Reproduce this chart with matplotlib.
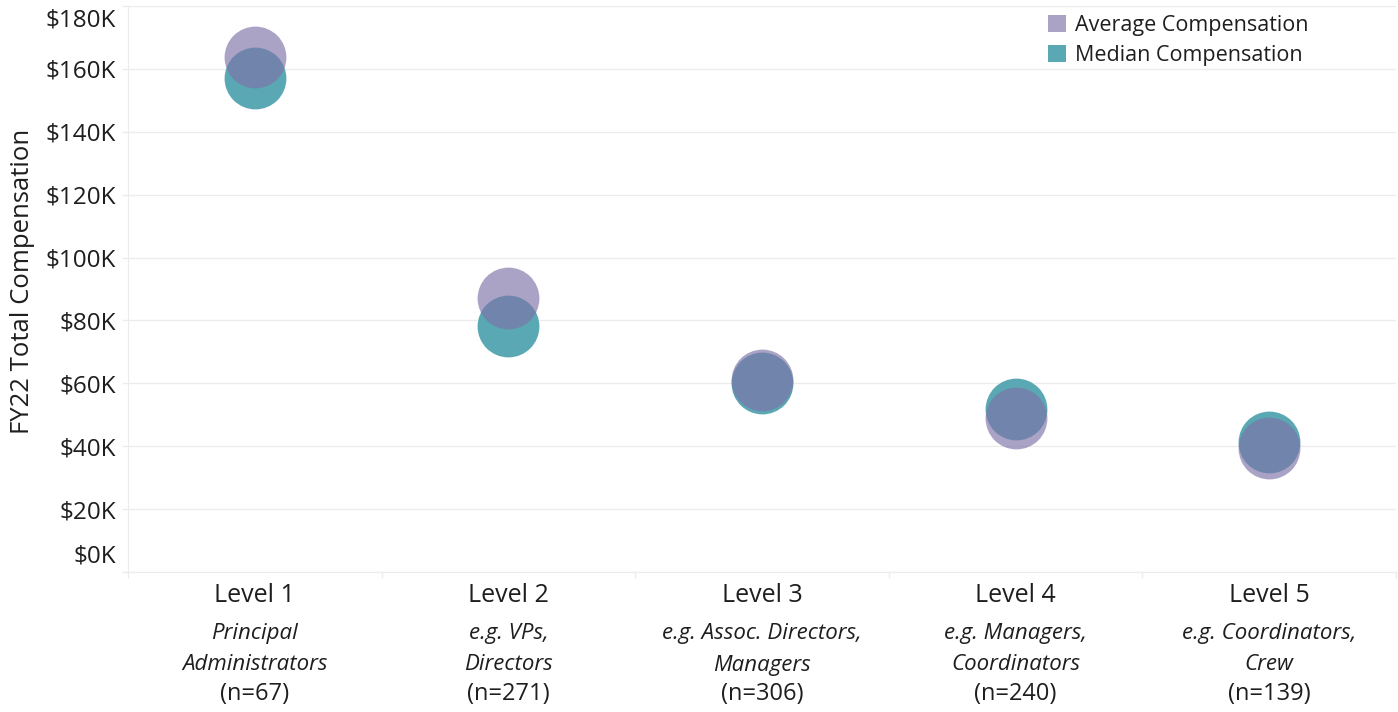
import matplotlib.pyplot as plt
from matplotlib.patches import Patch
from matplotlib.ticker import FixedLocator, FuncFormatter
from matplotlib.transforms import ScaledTranslation
import numpy as np

# Job levels and sample sizes
levels = ['Level 1', 'Level 2', 'Level 3', 'Level 4', 'Level 5']
roles = [
    ['Principal', 'Administrators'],
    ['e.g. VPs,', 'Directors'],
    ['e.g. Assoc. Directors,', 'Managers'],
    ['e.g. Managers,', 'Coordinators'],
    ['e.g. Coordinators,', 'Crew'],
]
counts = [67, 271, 306, 240, 139]

# FY22 total compensation in dollars
avg_comp = [163700, 87200, 61000, 49100, 39300]
median_comp = [157200, 78200, 60100, 51700, 41300]

AVG_COLOR = '#7e74a9'       # drawn with alpha on top
AVG_SWATCH = '#aaa3c6'
MEDIAN_COLOR = '#5aa8b3'
GRID = '#ececec'
TEXT = '#1e1e1e'

plt.rcParams['font.family'] = ['Open Sans', 'DejaVu Sans']

W, H = 1398, 712
fig = plt.figure(figsize=(W / 100, H / 100), dpi=100)
ax = fig.add_axes([128 / W, 1 - 572 / H, (1396 - 128) / W, (572 - 6) / H])

x = np.arange(len(levels)) + 0.5
bubble = 44.5 ** 2
ax.scatter(x, median_comp, s=bubble, color=MEDIAN_COLOR, lw=0, zorder=3)
ax.scatter(x, avg_comp, s=bubble, color=AVG_COLOR, alpha=0.66, lw=0, zorder=4)

ax.set_xlim(0, len(levels))
ax.set_ylim(0, 180000)

# y axis: $K ticks, gridlines
ax.yaxis.set_major_locator(FixedLocator(np.arange(0, 180001, 20000)))
ax.yaxis.set_major_formatter(FuncFormatter(lambda v, p: f'${int(v / 1000)}K'))
ax.yaxis.grid(True, color=GRID, lw=1, zorder=0)
ax.tick_params(axis='y', length=4.5, width=1, color=GRID, pad=4,
               labelsize=17.5, labelcolor=TEXT)
# keep the end labels inside the plot area
yticks = ax.yaxis.get_major_ticks()
for tick, dy in [(yticks[0], 19), (yticks[-1], -11)]:
    lab = tick.label1
    lab.set_transform(lab.get_transform() + ScaledTranslation(0, dy / 100, fig.dpi_scale_trans))
ax.set_ylabel('FY22 Total Compensation', fontsize=18.5, color=TEXT)
ax.yaxis.set_label_coords(-0.073, 0.513)

# x axis: boundary ticks, labels drawn below
ax.xaxis.set_major_locator(FixedLocator(np.arange(len(levels) + 1)))
ax.xaxis.set_major_formatter(FuncFormatter(lambda v, p: ''))
ax.tick_params(axis='x', length=4.5, width=1, color=GRID)

for s in ['top', 'right']:
    ax.spines[s].set_visible(False)
ax.spines['left'].set_color(GRID)
ax.spines['bottom'].set_color(GRID)
ax.spines['bottom'].set_linestyle((0, (2, 1)))

for xi, lev, role, n in zip(x, levels, roles, counts):
    kw = dict(xy=(xi, 0), xycoords=('data', 'axes fraction'),
              textcoords='offset pixels', ha='center', va='center', color=TEXT)
    ax.annotate(lev, xytext=(0, -24), fontsize=18, **kw)
    ax.annotate(role[0], xytext=(0, -61), fontsize=16, style='italic', **kw)
    ax.annotate(role[1], xytext=(0, -93), fontsize=16, style='italic', **kw)
    ax.annotate(f'(n={n})', xytext=(0, -122), fontsize=17, **kw)

handles = [Patch(facecolor=AVG_SWATCH, label='Average Compensation'),
           Patch(facecolor=MEDIAN_COLOR, label='Median Compensation')]
ax.legend(handles=handles, loc='upper left', bbox_to_anchor=(1048 / W, 1 - 15 / H),
          bbox_transform=fig.transFigure, frameon=False, fontsize=15.5,
          handlelength=0.84, handleheight=0.84, handletextpad=0.42,
          labelspacing=0.42, borderpad=0, borderaxespad=0,
          labelcolor=TEXT)

fig.savefig('out.png', dpi=100, facecolor='white')
